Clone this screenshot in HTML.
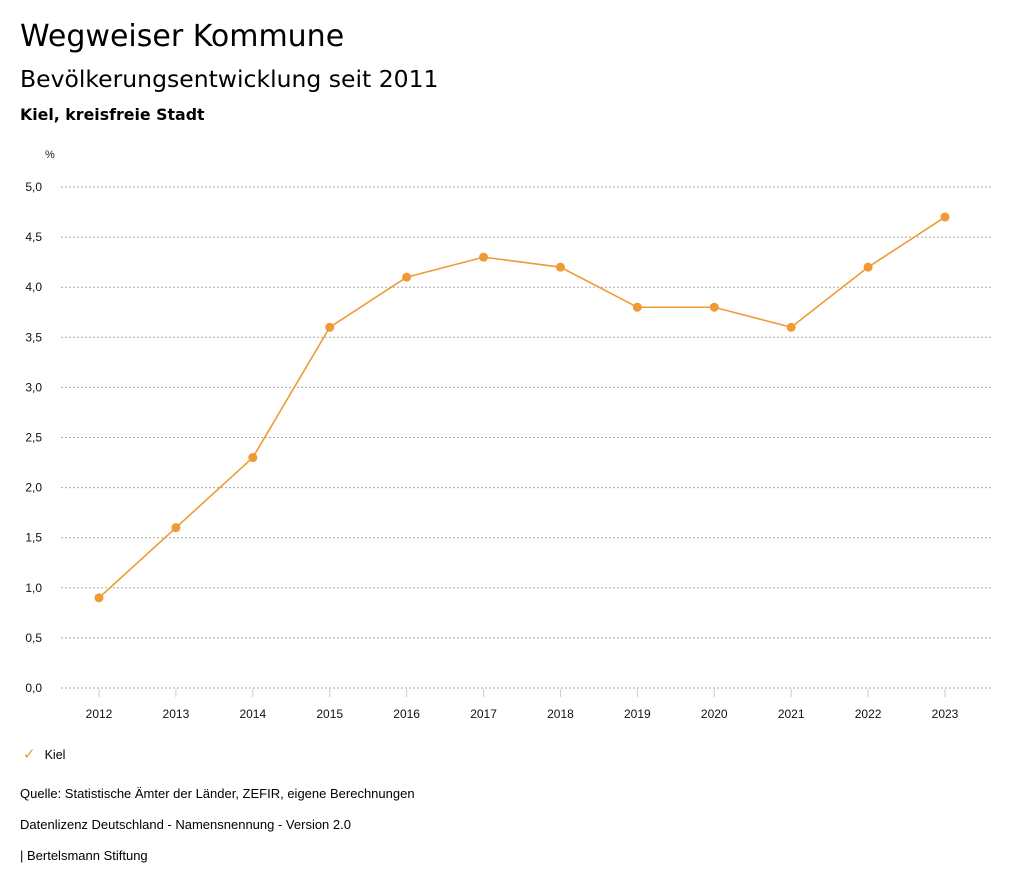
<!DOCTYPE html>
<html><head><meta charset="utf-8"><style>
body{margin:0;width:1024px;height:888px;background:#fff;font-family:"Liberation Sans",sans-serif;color:#000;position:relative;overflow:hidden}
.t{position:absolute;left:20px;white-space:nowrap;font-family:"DejaVu Sans",sans-serif}
.f{position:absolute;left:20px;font-size:13px;white-space:nowrap}
</style></head><body>
<div class="t" style="top:19px;font-size:30px">Wegweiser Kommune</div>
<div class="t" style="top:65px;font-size:23.5px">Bevölkerungsentwicklung seit 2011</div>
<div class="t" style="top:105px;font-size:15.8px;font-weight:bold">Kiel, kreisfreie Stadt</div>
<svg id="c" width="1024" height="780" style="position:absolute;left:0;top:0" font-family="Liberation Sans, sans-serif" font-size="12"></svg>
<div style="position:absolute;left:23px;top:745px;font-size:12.5px"><span style="color:#ef9a35;font-size:15px">✓</span><span style="margin-left:9px">Kiel</span></div>
<div class="f" style="top:786px">Quelle: Statistische Ämter der Länder, ZEFIR, eigene Berechnungen</div>
<div class="f" style="top:817px">Datenlizenz Deutschland - Namensnennung - Version 2.0</div>
<div class="f" style="top:848px">| Bertelsmann Stiftung</div>
<script>
const years=["2012","2013","2014","2015","2016","2017","2018","2019","2020","2021","2022","2023"];
const values=[0.9,1.6,2.3,3.6,4.1,4.3,4.2,3.8,3.8,3.6,4.2,4.7];
const yTicks=[0,0.5,1,1.5,2,2.5,3,3.5,4,4.5,5];
const yTickLabels=["0,0","0,5","1,0","1,5","2,0","2,5","3,0","3,5","4,0","4,5","5,0"];
const svg=document.getElementById('c');const NS="http://www.w3.org/2000/svg";
const x=i=>99+i*(945-99)/(years.length-1);
const y=v=>688-v*100.2;
function mk(t,a,p){const e=document.createElementNS(NS,t);for(const k in a)e.setAttribute(k,a[k]);(p||svg).appendChild(e);return e;}
let u=mk('text',{x:45,y:158,fill:'#222','font-size':11});u.textContent='%';


yTicks.forEach((v,i)=>{
 const l=mk('line',{x1:61,x2:991,y1:y(v),y2:y(v),stroke:'#aaa','stroke-dasharray':'2,2'});
 
 
 const t=mk('text',{x:42,y:y(v)+4,'text-anchor':'end',fill:'#111'});t.textContent=yTickLabels[i];
 
 
});
years.forEach((yr,i)=>{
 const l=mk('line',{x1:x(i),x2:x(i),y1:689,y2:697,stroke:'#ccc'});
 
 
 const t=mk('text',{x:x(i),y:718,'text-anchor':'middle',fill:'#111'});t.textContent=yr;
 
 
});
const p=mk('polyline',{points:values.map((v,i)=>x(i)+','+y(v)).join(' '),fill:'none',stroke:'#ef9a35','stroke-width':1.6});


values.forEach((v,i)=>{
 const c=mk('circle',{cx:x(i),cy:y(v),r:4.5,fill:'#ef9a35'});
 
 
});
</script>
</body></html>
